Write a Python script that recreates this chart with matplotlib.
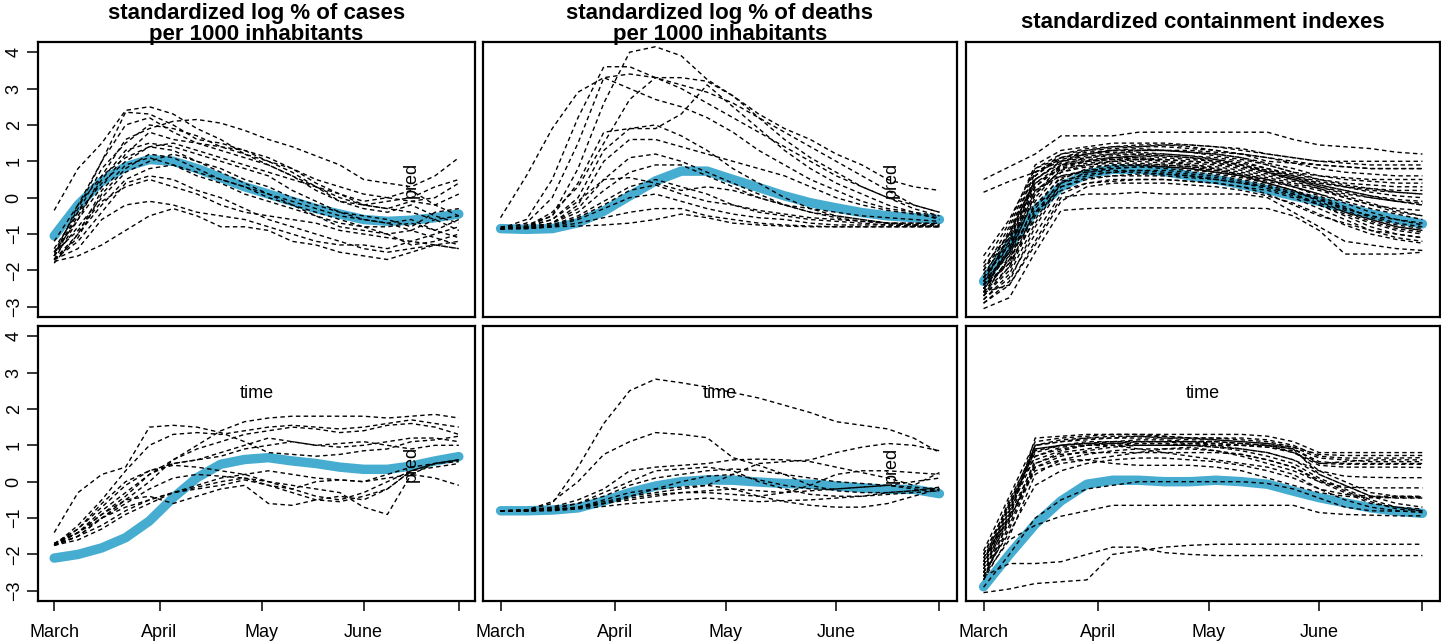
import matplotlib
matplotlib.use("Agg")
import matplotlib.pyplot as plt
import numpy as np

plt.rcParams['font.family'] = ['Liberation Sans', 'DejaVu Sans']

# weekly observation days (days since 1 March)
days = [0, 7, 14, 21, 28, 35, 42, 49, 56, 63, 70, 77, 84, 91, 98, 105, 112, 119]
tick_days = [0, 31, 61, 91, 119]
tick_labels = ['March', 'April', 'May', 'June', '']

titles = ['standardized log % of cases\nper 1000 inhabitants',
          'standardized log % of deaths\nper 1000 inhabitants',
          'standardized containment indexes']

# ---- top row: cluster 1 ----
cases1_mean = [-1.05, -0.2, 0.45, 0.85, 1.05, 1.0, 0.8, 0.55, 0.3, 0.1, -0.1, -0.3,
               -0.45, -0.6, -0.65, -0.62, -0.55, -0.45]
cases1 = [
    [-0.35, 0.8, 1.5, 2.4, 2.5, 2.3, 1.9, 1.6, 1.2, 1.0, 0.7, 0.3, 0.0, -0.2, -0.3, -0.4, -0.6, -0.9],
    [-1.6, -0.2, 1.0, 2.35, 2.3, 2.0, 1.6, 1.5, 1.3, 1.0, 0.8, 0.5, 0.3, 0.1, 0.0, 0.2, -0.2, -0.5],
    [-1.7, -0.6, 0.6, 1.6, 1.9, 2.1, 2.15, 2.05, 1.85, 1.6, 1.4, 1.15, 0.9, 0.5, 0.4, 0.3, 0.6, 1.1],
    [-1.5, -0.3, 1.0, 2.0, 2.2, 1.8, 1.5, 1.4, 1.3, 1.1, 0.8, 0.4, 0.1, -0.2, -0.1, 0.0, 0.3, 0.5],
    [-1.6, -0.5, 0.5, 1.3, 1.5, 1.4, 1.2, 1.0, 0.8, 0.6, 0.2, -0.1, -0.4, -0.6, -0.7, -0.6, -0.9, -1.1],
    [-1.4, -0.4, 0.4, 1.0, 1.4, 1.5, 1.3, 1.1, 0.9, 0.7, 0.5, 0.3, 0.1, -0.1, 0.0, -0.1, -0.2, 0.1],
    [-1.8, -1.0, 0.2, 0.9, 1.1, 0.9, 0.6, 0.4, 0.1, -0.1, -0.3, -0.5, -0.7, -0.8, -1.0, -1.3, -1.2, -1.0],
    [-1.7, -1.2, -0.4, 0.4, 0.6, 0.5, 0.2, 0.0, -0.3, -0.6, -0.8, -1.0, -1.2, -1.4, -1.5, -1.4, -1.3, -1.4],
    [-1.75, -1.6, -1.3, -0.9, -0.5, -0.3, -0.5, -0.8, -0.8, -0.9, -1.2, -1.3, -1.5, -1.6, -1.7, -1.5, -1.3, -1.4],
    [-1.7, -1.4, -0.6, -0.2, -0.1, -0.2, -0.4, -0.5, -0.6, -0.8, -1.0, -1.2, -1.3, -1.3, -1.4, -1.2, -1.0, -0.8],
    [-1.6, -0.8, 0.0, 0.7, 1.0, 1.2, 1.0, 0.8, 0.5, 0.3, 0.0, -0.2, -0.4, -0.5, -0.6, -0.8, -0.4, -0.3],
    [-1.5, -0.6, 0.3, 1.2, 1.8, 1.6, 1.5, 1.3, 1.1, 0.9, 0.6, 0.3, -0.1, -0.3, -0.4, -0.2, -0.5, -0.7],
    [-1.2, -0.2, 0.6, 1.1, 1.4, 1.3, 1.0, 0.7, 0.4, 0.1, -0.2, -0.5, -0.8, -0.9, -1.0, -0.9, -1.1, -1.3],
    [-1.7, -1.0, -0.2, 0.5, 0.8, 0.9, 0.7, 0.5, 0.3, 0.1, -0.1, -0.3, -0.5, -0.6, -0.7, -0.9, -0.6, -0.5],
    [-1.6, -0.4, 0.8, 1.5, 2.0, 1.9, 1.7, 1.4, 1.2, 0.9, 0.6, 0.2, -0.1, -0.2, -0.3, -0.1, 0.0, 0.4],
    [-1.5, -0.9, -0.1, 0.3, 0.5, 0.3, 0.1, -0.2, -0.4, -0.5, -0.6, -0.7, -0.9, -1.0, -1.1, -1.2, -1.3, -1.2],
    [-1.7, -1.1, 0.1, 0.8, 1.2, 1.1, 0.8, 0.5, 0.3, 0.0, -0.2, -0.4, -0.6, -0.8, -0.8, -0.7, -0.9, -0.6],
]

deaths1_mean = [-0.85, -0.87, -0.85, -0.69, -0.37, 0.05, 0.46, 0.73, 0.73, 0.5, 0.28, 0.05,
                -0.14, -0.28, -0.41, -0.5, -0.55, -0.6]
deaths1 = [
    [-0.8, -0.75, -0.5, 0.8, 2.6, 4.0, 4.15, 3.9, 3.25, 2.8, 2.3, 1.9, 1.6, 1.2, 0.9, 0.5, 0.3, 0.2],
    [-0.55, 0.6, 1.9, 2.9, 3.3, 3.4, 3.3, 3.1, 2.9, 2.6, 2.2, 1.8, 1.4, 1.0, 0.6, 0.2, -0.2, -0.4],
    [-0.85, -0.6, 0.5, 2.2, 3.6, 3.6, 3.3, 3.0, 2.6, 2.2, 1.8, 1.4, 1.0, 0.6, 0.3, 0.0, -0.3, -0.5],
    [-0.85, -0.7, 0.0, 1.5, 3.3, 3.0, 2.7, 2.5, 2.2, 1.8, 1.3, 0.9, 0.5, 0.2, -0.1, -0.3, -0.4, -0.6],
    [-0.85, -0.8, -0.4, 0.3, 1.5, 2.7, 3.3, 3.3, 3.2, 2.8, 2.2, 1.6, 1.1, 0.7, 0.3, 0.0, -0.2, -0.4],
    [-0.85, -0.8, -0.5, 0.4, 1.8, 1.9, 1.9, 2.3, 3.1, 2.5, 1.9, 1.3, 0.8, 0.4, 0.1, -0.2, -0.4, -0.5],
    [-0.85, -0.8, -0.6, 0.0, 1.3, 1.9, 2.0, 1.7, 1.3, 0.8, 0.4, 0.0, -0.3, -0.5, -0.6, -0.7, -0.75, -0.75],
    [-0.85, -0.82, -0.7, -0.3, 0.5, 1.1, 1.2, 1.0, 0.7, 0.4, 0.1, -0.2, -0.4, -0.55, -0.65, -0.7, -0.75, -0.75],
    [-0.85, -0.82, -0.7, -0.4, 0.2, 0.7, 0.9, 0.9, 0.6, 0.3, 0.0, -0.2, -0.4, -0.5, -0.6, -0.7, -0.7, -0.7],
    [-0.85, -0.83, -0.75, -0.5, -0.1, 0.3, 0.5, 0.3, 0.1, -0.2, -0.4, -0.5, -0.6, -0.65, -0.7, -0.75, -0.75, -0.8],
    [-0.85, -0.84, -0.8, -0.6, -0.3, 0.0, 0.1, -0.1, -0.3, -0.45, -0.55, -0.6, -0.7, -0.75, -0.75, -0.75, -0.78, -0.78],
    [-0.85, -0.85, -0.8, -0.7, -0.55, -0.4, -0.3, -0.3, -0.5, -0.6, -0.7, -0.75, -0.78, -0.8, -0.8, -0.8, -0.8, -0.8],
    [-0.85, -0.85, -0.8, -0.78, -0.75, -0.7, -0.6, -0.45, -0.55, -0.7, -0.75, -0.78, -0.8, -0.8, -0.8, -0.8, -0.8, -0.8],
    [-0.85, -0.82, -0.7, -0.2, 1.0, 1.6, 1.6, 1.4, 1.2, 1.0, 0.8, 0.6, 0.3, 0.0, -0.2, -0.35, -0.45, -0.55],
    [-0.85, -0.8, -0.6, -0.1, 0.5, 0.55, 0.4, 0.2, 0.3, 0.2, 0.0, -0.2, -0.3, -0.4, -0.5, -0.55, -0.6, -0.65],
    [-0.85, -0.84, -0.78, -0.55, -0.2, 0.2, 0.35, 0.1, -0.1, -0.2, -0.35, -0.45, -0.55, -0.6, -0.65, -0.7, -0.7, -0.72],
]

contain1_mean = [-2.3, -1.3, -0.35, 0.3, 0.65, 0.78, 0.78, 0.72, 0.6, 0.5, 0.36, 0.22,
                 0.05, -0.1, -0.27, -0.45, -0.6, -0.72]
contain1 = [
    [0.5, 0.85, 1.2, 1.7, 1.7, 1.7, 1.8, 1.8, 1.8, 1.8, 1.8, 1.8, 1.6, 1.45, 1.4, 1.35, 1.25, 1.2],
    [0.15, 0.45, 0.7, 1.1, 1.3, 1.35, 1.4, 1.4, 1.35, 1.3, 1.2, 1.0, 0.95, 0.9, 0.85, 0.8, 0.8, 0.8],
    [-3.05, -2.75, -1.5, -0.35, -0.3, -0.28, -0.28, -0.28, -0.28, -0.28, -0.28, -0.3, -0.5, -0.9, -1.55, -1.55, -1.55, -1.5],
    [-2.6, -2.4, -1.2, 0.0, 0.1, 0.1, 0.15, 0.1, 0.1, 0.1, 0.1, 0.0, -0.4, -0.8, -1.2, -1.3, -1.4, -1.45],
    [-2.5, -1.5, 0.6, 1.2, 1.3, 1.4, 1.4, 1.45, 1.45, 1.4, 1.35, 1.2, 1.1, 1.0, 1.0, 1.0, 1.0, 1.0],
    [-2.4, -1.0, 0.7, 1.0, 1.1, 1.2, 1.3, 1.3, 1.25, 1.2, 1.1, 0.9, 0.7, 0.6, 0.55, 0.5, 0.5, 0.5],
    [-2.2, -1.2, 0.4, 0.8, 1.0, 1.1, 1.1, 1.0, 0.9, 0.8, 0.6, 0.4, 0.2, 0.0, -0.3, -0.5, -0.6, -0.7],
    [-2.7, -2.0, -0.5, 0.5, 0.8, 0.9, 0.9, 0.85, 0.8, 0.7, 0.6, 0.4, 0.2, -0.1, -0.4, -0.6, -0.8, -0.9],
    [-2.3, -1.6, -0.2, 0.3, 0.5, 0.6, 0.6, 0.6, 0.55, 0.5, 0.4, 0.3, 0.1, -0.2, -0.5, -0.8, -1.0, -1.1],
    [-2.5, -1.4, 0.2, 0.7, 0.9, 1.0, 1.05, 1.05, 1.0, 0.95, 0.85, 0.7, 0.5, 0.3, 0.1, 0.0, -0.1, -0.2],
    [-1.9, -1.0, 0.5, 1.0, 1.2, 1.25, 1.25, 1.2, 1.15, 1.1, 1.0, 0.8, 0.6, 0.4, 0.3, 0.25, 0.2, 0.2],
    [-2.8, -2.2, -1.0, 0.1, 0.4, 0.5, 0.5, 0.5, 0.45, 0.4, 0.3, 0.1, -0.2, -0.5, -0.7, -0.9, -1.0, -1.1],
    [-2.4, -1.8, -0.6, 0.4, 0.7, 0.8, 0.85, 0.85, 0.8, 0.7, 0.6, 0.45, 0.3, 0.1, -0.1, -0.3, -0.45, -0.6],
    [-2.0, -0.8, 0.8, 1.1, 1.2, 1.3, 1.3, 1.3, 1.3, 1.25, 1.2, 1.1, 0.95, 0.8, 0.7, 0.65, 0.6, 0.6],
    [-2.6, -1.9, -0.3, 0.6, 0.7, 0.75, 0.75, 0.7, 0.65, 0.6, 0.5, 0.35, 0.15, -0.05, -0.3, -0.5, -0.7, -0.8],
    [-2.2, -1.3, 0.3, 0.9, 1.0, 1.1, 1.15, 1.1, 1.05, 1.0, 0.9, 0.75, 0.6, 0.45, 0.3, 0.15, 0.05, 0.0],
    [-2.5, -1.7, -0.4, 0.2, 0.4, 0.45, 0.5, 0.5, 0.45, 0.4, 0.3, 0.2, 0.0, -0.3, -0.6, -0.9, -1.1, -1.2],
    [-2.3, -1.5, 0.0, 0.8, 0.9, 0.95, 0.95, 0.9, 0.85, 0.8, 0.7, 0.55, 0.4, 0.25, 0.0, -0.2, -0.3, -0.35],
    [-2.7, -1.6, 0.1, 0.9, 1.1, 1.15, 1.2, 1.2, 1.15, 1.05, 0.9, 0.7, 0.5, 0.3, 0.15, 0.0, -0.1, -0.15],
    [-1.6, -0.6, 0.8, 1.2, 1.35, 1.4, 1.45, 1.45, 1.4, 1.3, 1.2, 1.1, 1.0, 0.9, 0.85, 0.8, 0.8, 0.8],
    [-2.9, -2.3, -0.8, 0.3, 0.55, 0.6, 0.65, 0.65, 0.6, 0.5, 0.4, 0.25, 0.05, -0.2, -0.45, -0.7, -0.9, -1.0],
    [-2.1, -1.1, 0.4, 0.9, 1.0, 1.05, 1.1, 1.05, 1.0, 0.95, 0.85, 0.7, 0.55, 0.4, 0.3, 0.2, 0.15, 0.1],
    [-2.4, -1.4, 0.2, 0.6, 0.75, 0.8, 0.85, 0.8, 0.75, 0.7, 0.6, 0.5, 0.35, 0.2, 0.0, -0.2, -0.4, -0.5],
    [-2.6, -1.2, 0.5, 1.0, 1.15, 1.2, 1.2, 1.15, 1.1, 1.0, 0.9, 0.75, 0.55, 0.35, 0.2, 0.05, -0.05, -0.1],
    [-2.2, -0.9, 0.7, 1.05, 1.2, 1.3, 1.35, 1.3, 1.25, 1.15, 1.05, 0.9, 0.7, 0.5, 0.35, 0.25, 0.15, 0.1],
    [-2.5, -1.8, -0.1, 0.7, 0.85, 0.9, 0.9, 0.85, 0.8, 0.75, 0.65, 0.5, 0.3, 0.1, -0.15, -0.4, -0.6, -0.75],
    [-2.8, -2.1, -0.7, 0.4, 0.6, 0.7, 0.7, 0.65, 0.6, 0.55, 0.45, 0.3, 0.1, -0.15, -0.4, -0.65, -0.85, -0.95],
    [-2.3, -1.1, 0.6, 1.1, 1.25, 1.3, 1.3, 1.3, 1.25, 1.2, 1.1, 0.95, 0.8, 0.6, 0.5, 0.45, 0.4, 0.4],
    [-1.8, -0.7, 0.9, 1.3, 1.4, 1.5, 1.5, 1.5, 1.45, 1.4, 1.3, 1.2, 1.1, 1.0, 0.95, 0.9, 0.9, 0.9],
    [-2.4, -1.5, 0.1, 0.75, 0.95, 1.0, 1.0, 0.95, 0.9, 0.85, 0.75, 0.6, 0.45, 0.25, 0.05, -0.15, -0.35, -0.5],
    [-2.6, -1.7, -0.2, 0.55, 0.75, 0.85, 0.9, 0.9, 0.85, 0.75, 0.65, 0.5, 0.3, 0.05, -0.25, -0.55, -0.75, -0.85],
    [-2.0, -1.0, 0.5, 0.95, 1.05, 1.1, 1.15, 1.15, 1.1, 1.05, 0.95, 0.8, 0.65, 0.5, 0.4, 0.35, 0.3, 0.3],
    [-2.7, -1.9, -0.4, 0.45, 0.65, 0.7, 0.75, 0.75, 0.7, 0.65, 0.55, 0.4, 0.2, -0.05, -0.35, -0.6, -0.8, -0.9],
    [-2.2, -1.3, 0.3, 0.85, 1.0, 1.05, 1.05, 1.0, 0.95, 0.9, 0.8, 0.65, 0.5, 0.35, 0.2, 0.05, -0.1, -0.2],
    [-2.9, -2.4, -1.3, -0.1, 0.3, 0.4, 0.4, 0.4, 0.35, 0.3, 0.2, 0.05, -0.15, -0.45, -0.75, -1.0, -1.15, -1.25],
]

# ---- bottom row: cluster 2 ----
cases2_mean = [-2.1, -2.0, -1.82, -1.54, -1.08, -0.44, 0.11, 0.48, 0.61, 0.66, 0.57, 0.5,
               0.4, 0.34, 0.34, 0.43, 0.57, 0.69]
cases2 = [
    [-1.4, -0.3, 0.2, 0.4, 1.5, 1.55, 1.5, 1.35, 1.1, 0.8, 0.75, 0.7, 0.75, 0.85, 0.9, 1.1, 1.15, 1.25],
    [-1.75, -1.2, -0.5, 0.3, 1.0, 1.3, 1.35, 1.3, 1.4, 1.5, 1.55, 1.5, 1.45, 1.5, 1.6, 1.7, 1.6, 1.5],
    [-1.75, -1.4, -0.9, -0.4, 0.2, 0.6, 1.0, 1.4, 1.65, 1.75, 1.8, 1.8, 1.8, 1.8, 1.75, 1.8, 1.85, 1.75],
    [-1.75, -1.5, -1.0, -0.5, 0.0, 0.6, 0.9, 1.1, 1.3, 1.4, 1.5, 1.45, 1.35, 1.4, 1.55, 1.6, 1.5, 1.3],
    [-1.75, -1.4, -0.8, -0.3, 0.2, 0.5, 0.6, 0.7, 0.9, 1.0, 1.1, 1.0, 0.95, 1.0, 1.1, 1.2, 1.2, 1.1],
    [-1.7, -1.3, -0.7, -0.1, 0.3, 0.45, 0.4, 0.3, 0.2, 0.0, -0.1, -0.2, -0.3, -0.7, -0.9, 0.2, 0.5, 0.6],
    [-1.75, -1.5, -1.0, -0.6, -0.2, 0.1, 0.2, 0.15, 0.1, -0.1, -0.3, -0.5, -0.55, -0.4, -0.2, 0.3, 0.4, 0.5],
    [-1.75, -1.5, -1.2, -0.8, -0.5, -0.3, -0.2, -0.1, 0.05, -0.1, -0.2, 0.0, 0.05, 0.0, 0.1, 0.2, 0.1, -0.1],
    [-1.7, -1.4, -0.9, -0.5, -0.4, -0.6, -0.4, -0.2, -0.1, -0.6, -0.65, -0.5, -0.4, -0.5, -0.2, 0.3, 0.5, 0.55],
    [-1.75, -1.3, -0.6, 0.0, 0.3, 0.5, 0.6, 0.8, 1.0, 1.2, 1.1, 1.0, 1.05, 1.1, 1.0, 0.9, 1.0, 1.0],
    [-1.75, -1.6, -1.3, -0.9, -0.6, -0.3, -0.1, 0.1, 0.2, 0.3, 0.2, 0.1, 0.05, 0.0, 0.2, 0.4, 0.5, 0.6],
    [-1.7, -1.4, -1.0, -0.7, -0.5, -0.3, -0.15, 0.0, 0.1, 0.0, -0.2, -0.4, -0.5, -0.3, 0.0, 0.3, 0.5, 0.6],
]

deaths2_mean = [-0.8, -0.8, -0.78, -0.72, -0.53, -0.3, -0.12, 0.0, 0.05, 0.04, -0.01, -0.05,
                -0.07, -0.12, -0.17, -0.21, -0.21, -0.33]
deaths2 = [
    [-0.8, -0.78, -0.6, 0.4, 1.6, 2.5, 2.82, 2.72, 2.6, 2.45, 2.3, 2.1, 1.9, 1.65, 1.55, 1.45, 1.2, 0.8],
    [-0.8, -0.78, -0.55, 0.0, 0.75, 1.1, 1.35, 1.3, 1.21, 0.66, 0.45, 0.2, -0.1, -0.25, -0.3, -0.3, -0.25, -0.2],
    [-0.8, -0.8, -0.75, -0.7, -0.6, -0.4, -0.3, -0.2, -0.1, 0.2, 0.5, 0.55, 0.6, 0.8, 0.95, 1.05, 1.0, 0.85],
    [-0.8, -0.78, -0.7, -0.5, -0.2, 0.3, 0.4, 0.45, 0.5, 0.6, 0.62, 0.6, 0.55, 0.4, 0.25, 0.1, -0.1, 0.25],
    [-0.8, -0.8, -0.75, -0.6, -0.3, 0.0, 0.3, 0.35, 0.4, 0.3, 0.0, -0.2, -0.35, -0.4, -0.4, -0.35, -0.3, -0.25],
    [-0.8, -0.8, -0.78, -0.7, -0.5, -0.3, -0.2, -0.15, -0.1, -0.2, -0.4, -0.55, -0.65, -0.7, -0.7, -0.6, -0.4, -0.2],
    [-0.8, -0.8, -0.78, -0.72, -0.6, -0.45, -0.35, -0.3, -0.25, -0.2, -0.25, -0.3, -0.25, -0.2, -0.15, -0.1, 0.0, 0.1],
    [-0.8, -0.8, -0.78, -0.7, -0.55, -0.4, -0.2, 0.0, 0.15, 0.2, 0.05, -0.1, -0.2, -0.2, -0.15, -0.1, -0.15, -0.2],
    [-0.8, -0.8, -0.8, -0.75, -0.68, -0.6, -0.55, -0.5, -0.45, -0.5, -0.55, -0.52, -0.5, -0.45, -0.4, -0.3, -0.25, -0.15],
    [-0.8, -0.78, -0.72, -0.6, -0.4, -0.1, 0.1, 0.2, 0.3, 0.35, 0.3, 0.2, 0.1, 0.0, -0.05, -0.1, -0.2, -0.25],
    [-0.8, -0.8, -0.78, -0.72, -0.6, -0.5, -0.4, -0.3, -0.3, -0.35, -0.4, -0.3, -0.1, 0.2, 0.3, 0.3, 0.25, 0.2],
]

contain2_mean = [-2.89, -2.0, -1.17, -0.53, -0.07, 0.04, 0.04, 0.0, 0.0, 0.04, 0.0, -0.07,
                 -0.26, -0.44, -0.58, -0.72, -0.81, -0.87]
contain2 = [
    [-2.7, -1.0, 1.2, 1.25, 1.3, 1.3, 1.3, 1.3, 1.3, 1.3, 1.3, 1.25, 1.1, 0.8, 0.8, 0.8, 0.8, 0.8],
    [-2.5, -0.9, 1.0, 1.1, 1.2, 1.2, 1.25, 1.25, 1.2, 1.2, 1.2, 1.15, 1.0, 0.7, 0.65, 0.65, 0.65, 0.66],
    [-2.3, -0.7, 0.9, 1.0, 1.05, 1.1, 1.1, 1.1, 1.1, 1.05, 1.0, 1.0, 0.9, 0.5, 0.48, 0.48, 0.48, 0.48],
    [-2.0, -0.6, 0.7, 0.95, 1.0, 1.05, 1.0, 1.0, 1.0, 1.0, 1.0, 0.95, 0.8, 0.45, 0.4, 0.4, 0.4, 0.39],
    [-2.6, -1.2, 0.5, 0.8, 0.9, 1.0, 1.0, 1.0, 1.05, 1.0, 0.9, 0.8, 0.6, 0.3, 0.15, 0.12, 0.11, 0.11],
    [-2.4, -1.0, 0.3, 0.5, 0.6, 0.7, 0.8, 0.9, 0.95, 0.85, 0.7, 0.5, 0.3, 0.0, -0.15, -0.17, -0.17, -0.17],
    [-2.2, -0.8, 0.7, 0.9, 1.0, 1.0, 0.9, 0.8, 0.7, 0.6, 0.5, 0.4, 0.2, -0.2, -0.35, -0.4, -0.4, -0.4],
    [-2.1, -1.0, 0.4, 0.6, 0.6, 0.5, 0.45, 0.45, 0.45, 0.4, 0.3, 0.1, -0.1, -0.3, -0.4, -0.44, -0.44, -0.44],
    [-2.9, -2.0, -1.0, -0.5, -0.2, -0.1, 0.0, 0.0, 0.0, 0.0, 0.0, -0.05, -0.2, -0.45, -0.7, -0.8, -0.81, -0.81],
    [-2.6, -1.6, -1.2, -0.95, -0.8, -0.65, -0.65, -0.65, -0.65, -0.65, -0.65, -0.65, -0.65, -0.85, -0.9, -0.92, -0.94, -0.94],
    [-3.05, -2.95, -2.8, -2.75, -2.7, -2.0, -1.9, -1.8, -1.75, -1.72, -1.72, -1.72, -1.72, -1.72, -1.72, -1.72, -1.72, -1.72],
    [-2.6, -2.25, -2.25, -2.2, -2.0, -1.8, -1.8, -1.95, -2.0, -2.03, -2.03, -2.03, -2.03, -2.03, -2.03, -2.03, -2.03, -2.03],
    [-2.2, -0.5, 0.9, 1.0, 1.1, 1.1, 1.15, 1.15, 1.1, 1.1, 1.05, 1.0, 0.8, 0.5, 0.55, 0.6, 0.6, 0.6],
    [-1.9, -0.4, 1.1, 1.2, 1.25, 1.3, 1.3, 1.25, 1.2, 1.2, 1.15, 1.1, 0.95, 0.75, 0.72, 0.72, 0.72, 0.72],
    [-2.5, -1.1, 0.6, 0.85, 1.0, 1.05, 1.05, 1.05, 1.0, 0.95, 0.85, 0.7, 0.5, 0.1, -0.2, -0.5, -0.7, -0.8],
    [-2.3, -0.9, 0.5, 0.75, 0.8, 0.8, 0.8, 0.8, 0.8, 0.8, 0.75, 0.6, 0.4, 0.0, -0.3, -0.6, -0.7, -0.75],
    [-2.0, -0.6, 0.8, 1.0, 1.05, 1.05, 1.1, 1.1, 1.1, 1.1, 1.05, 1.0, 0.9, 0.2, -0.1, -0.4, -0.45, -0.45],
    [-2.4, -0.8, 1.0, 1.15, 1.2, 1.25, 1.25, 1.2, 1.2, 1.15, 1.1, 1.05, 0.9, 0.55, 0.5, 0.5, 0.5, 0.5],
    [-2.1, -0.7, 0.85, 1.0, 1.05, 1.1, 1.1, 1.1, 1.05, 1.05, 1.0, 0.95, 0.85, 0.3, 0.0, -0.3, -0.4, -0.42],
    [-2.6, -1.3, 0.4, 0.7, 0.85, 0.95, 1.0, 1.0, 1.0, 0.95, 0.9, 0.8, 0.6, 0.2, -0.1, -0.4, -0.6, -0.7],
    [-2.3, -0.6, 1.0, 1.1, 1.15, 1.2, 1.2, 1.2, 1.15, 1.15, 1.1, 1.05, 0.95, 0.65, 0.6, 0.55, 0.55, 0.55],
    [-2.5, -1.4, -0.1, 0.3, 0.5, 0.6, 0.65, 0.65, 0.6, 0.55, 0.45, 0.3, 0.1, -0.2, -0.5, -0.7, -0.8, -0.85],
    [-2.7, -1.5, 0.2, 0.6, 0.75, 0.85, 0.9, 0.9, 0.9, 0.85, 0.75, 0.6, 0.4, 0.05, -0.25, -0.55, -0.75, -0.8],
]

panels = [
    [(cases1, cases1_mean), (deaths1, deaths1_mean), (contain1, contain1_mean)],
    [(cases2, cases2_mean), (deaths2, deaths2_mean), (contain2, contain2_mean)],
]

# stray axis-label texts visible in the panels: (row, col) -> (day, value)
pred_pos = {(0, 0): (105, 0.5), (0, 1): (106, 0.5), (1, 0): (105, 0.48), (1, 1): (106, 0.47)}
time_pos = {(1, 0): (59.5, 2.43), (1, 1): (59.5, 2.43), (1, 2): (59.5, 2.43)}

W, H = 1441, 643
fig = plt.figure(figsize=(W / 100, H / 100), dpi=100)

col_px = [(38, 437), (483, 474), (966, 474)]
row_px = [(42, 275), (326, 275)]
blue = '#46ADD0'

xpad = 0.04 * (days[-1] - days[0])
ylo, yhi = -3, 4
ypad = 0.04 * (yhi - ylo)

for r in range(2):
    for c in range(3):
        x0, w = col_px[c]
        y0, h = row_px[r]
        ax = fig.add_axes([x0 / W, 1 - (y0 + h) / H, w / W, h / H])
        lines, mean = panels[r][c]
        ax.plot(days, mean, color=blue, lw=6.8, solid_capstyle='round',
                solid_joinstyle='round', zorder=2)
        for ln in lines:
            ax.plot(days, ln, color='black', lw=1.0, linestyle=(0, (3.2, 2.4)), zorder=3)
        ax.set_xlim(days[0] - xpad, days[-1] + xpad)
        ax.set_ylim(ylo - ypad, yhi + ypad)
        for sp in ax.spines.values():
            sp.set_linewidth(1.6)
        if r == 1:
            ax.set_xticks(tick_days)
            ax.set_xticklabels(tick_labels)
            ax.tick_params(axis='x', length=7.5, width=1.1, pad=9, labelsize=13)
        else:
            ax.set_xticks([])
        if c == 0:
            ax.set_yticks(range(ylo, yhi + 1))
            ax.set_yticklabels([str(v).replace('-', '\u2212') for v in range(ylo, yhi + 1)],
                               rotation=90, va='center')
            ax.tick_params(axis='y', length=8, width=1.1, pad=3, labelsize=13)
        else:
            ax.set_yticks([])
        if (r, c) in pred_pos:
            px, py = pred_pos[(r, c)]
            ax.text(px, py, 'pred', rotation=90, ha='center', va='center', fontsize=13, zorder=5)
        if (r, c) in time_pos:
            tx, ty = time_pos[(r, c)]
            ax.text(tx, ty, 'time', ha='center', va='center', fontsize=13, zorder=5)
        if r == 0:
            ty_px = 24 if '\n' in titles[c] else 22
            fig.text((x0 + w / 2) / W, 1 - ty_px / H, titles[c], ha='center', va='center',
                     fontsize=16, fontweight='bold', linespacing=1.05, zorder=0)

fig.savefig('out.png', dpi=100)
